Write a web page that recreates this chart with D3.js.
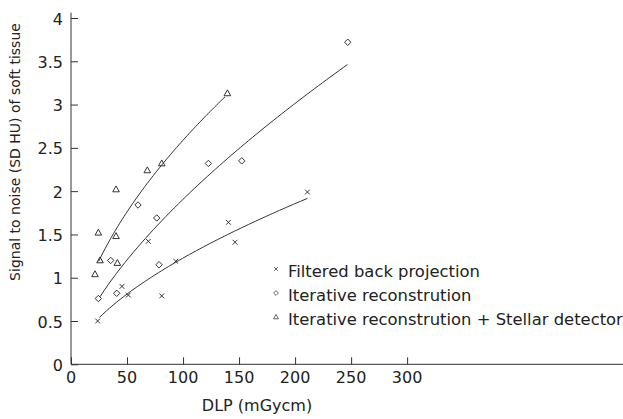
<!DOCTYPE html>
<html>
<head>
<meta charset="utf-8">
<script src="https://cdn.jsdelivr.net/npm/d3@7"></script>
<style>
  body { margin: 0; background: #fff; }
  text { font-family: "DejaVu Sans", Verdana, sans-serif; fill: #222; }
</style>
</head>
<body>
<div id="chart"></div>
<script>
// Chart size
var width = 623;
var height = 419;

// Series names
var seriesNames = ["Filtered back projection", "Iterative reconstrution", "Iterative reconstrution + Stellar detector"];
var seriesShapes = ["cross", "diamond", "triangle"];

// Filtered back projection points (DLP, SNR)
var fbpX = [23.8, 45.5, 51.2, 69, 81, 93.5, 140.5, 146.4, 211];
var fbpY = [0.50, 0.90, 0.80, 1.42, 0.79, 1.19, 1.64, 1.41, 1.99];

// Iterative reconstruction points
var irX = [24.4, 35.4, 40.8, 59.8, 76.5, 78.6, 122.6, 152.4, 247];
var irY = [0.76, 1.20, 0.82, 1.84, 1.69, 1.15, 2.32, 2.35, 3.72];

// Iterative reconstruction + Stellar detector points
var stX = [21.4, 24.4, 25.9, 40.2, 40.2, 41.4, 68.1, 81, 139.6];
var stY = [1.04, 1.52, 1.20, 2.02, 1.48, 1.17, 2.24, 2.32, 3.13];

// Power trend lines y = a * x^b, drawn between fitFrom and fitTo
var fitA = [0.0785, 0.0908, 0.200];
var fitB = [0.597, 0.661, 0.556];
var fitFrom = [25.3, 25.9, 24.7];
var fitTo = [211, 246.7, 137.5];

// Tick labels
var xTicks = [0, 50, 100, 150, 200, 250, 300];
var yTicks = [0, 0.5, 1, 1.5, 2, 2.5, 3, 3.5, 4];

var svg = d3.select("#chart")
    .append("svg")
    .attr("width", width)
    .attr("height", height);

var x = d3.scaleLinear().domain([0, 490]).range([71, 620]);
var y = d3.scaleLinear().domain([0, 4]).range([364.3, 18]);

var ink = "#333";

// Marker shapes
function markerPath(shape) {
    if (shape === "cross") return "M-2.4,-2.4L2.4,2.4M-2.4,2.4L2.4,-2.4";
    if (shape === "diamond") return "M0,-3.2L3.2,0L0,3.2L-3.2,0Z";
    return "M0,-3.5L3.3,2.4L-3.3,2.4Z";
}

// Axes
var xAxis = svg.append("g")
    .attr("transform", "translate(0," + y(0) + ")")
    .call(d3.axisTop(x).tickValues(xTicks).tickSize(7).tickFormat(""));
xAxis.select(".domain").attr("d", "M" + x(0) + ",0H" + width).attr("stroke", ink);
xAxis.selectAll(".tick line").attr("stroke", ink);

svg.append("g").selectAll("text")
    .data(xTicks)
    .enter()
    .append("text")
    .attr("x", function(d) { return x(d); })
    .attr("y", 383)
    .attr("text-anchor", "middle")
    .style("font-size", "16px")
    .text(function(d) { return d; });

var yAxis = svg.append("g")
    .attr("transform", "translate(" + x(0) + ",0)")
    .call(d3.axisRight(y).tickValues(yTicks).tickSize(7).tickFormat(""));
yAxis.select(".domain").attr("d", "M0,12.7V" + y(0)).attr("stroke", ink);
yAxis.selectAll(".tick line").attr("stroke", ink);

svg.append("g").selectAll("text")
    .data(yTicks)
    .enter()
    .append("text")
    .attr("x", 63)
    .attr("y", function(d) { return y(d) + 6.5; })
    .attr("text-anchor", "end")
    .style("font-size", "16px")
    .text(function(d) { return d; });

// Axis titles
svg.append("text")
    .attr("x", 257)
    .attr("y", 411)
    .attr("text-anchor", "middle")
    .style("font-size", "16px")
    .text("DLP (mGycm)");

svg.append("text")
    .attr("transform", "translate(20,152) rotate(-90)")
    .attr("text-anchor", "middle")
    .style("font-size", "14px")
    .text("Signal to noise (SD HU) of soft tissue");

// Trend lines
var line = d3.line()
    .x(function(d) { return x(d[0]); })
    .y(function(d) { return y(d[1]); });

fitA.forEach(function(a, i) {
    var pts = d3.range(0, 61).map(function(k) {
        var xv = fitFrom[i] + (fitTo[i] - fitFrom[i]) * k / 60;
        return [xv, a * Math.pow(xv, fitB[i])];
    });
    svg.append("path")
        .attr("d", line(pts))
        .attr("fill", "none")
        .attr("stroke", ink)
        .attr("stroke-width", 1);
});

// Points
var seriesX = [fbpX, irX, stX];
var seriesY = [fbpY, irY, stY];
seriesX.forEach(function(xs, i) {
    svg.append("g").selectAll("path")
        .data(xs)
        .enter()
        .append("path")
        .attr("transform", function(d, j) { return "translate(" + x(d) + "," + y(seriesY[i][j]) + ")"; })
        .attr("d", markerPath(seriesShapes[i]))
        .attr("fill", "none")
        .attr("stroke", ink)
        .attr("stroke-width", 1);
});

// Legend
var legend = svg.append("g").attr("transform", "translate(276,269)");
seriesNames.forEach(function(name, i) {
    legend.append("path")
        .attr("transform", "translate(0," + i * 24 + ") scale(0.75)")
        .attr("d", markerPath(seriesShapes[i]))
        .attr("fill", "none")
        .attr("stroke", ink)
        .attr("stroke-width", 1);
    legend.append("text")
        .attr("x", 12)
        .attr("y", i * 24 + 7.5)
        .style("font-size", "16.4px")
        .text(name);
});
</script>
</body>
</html>
